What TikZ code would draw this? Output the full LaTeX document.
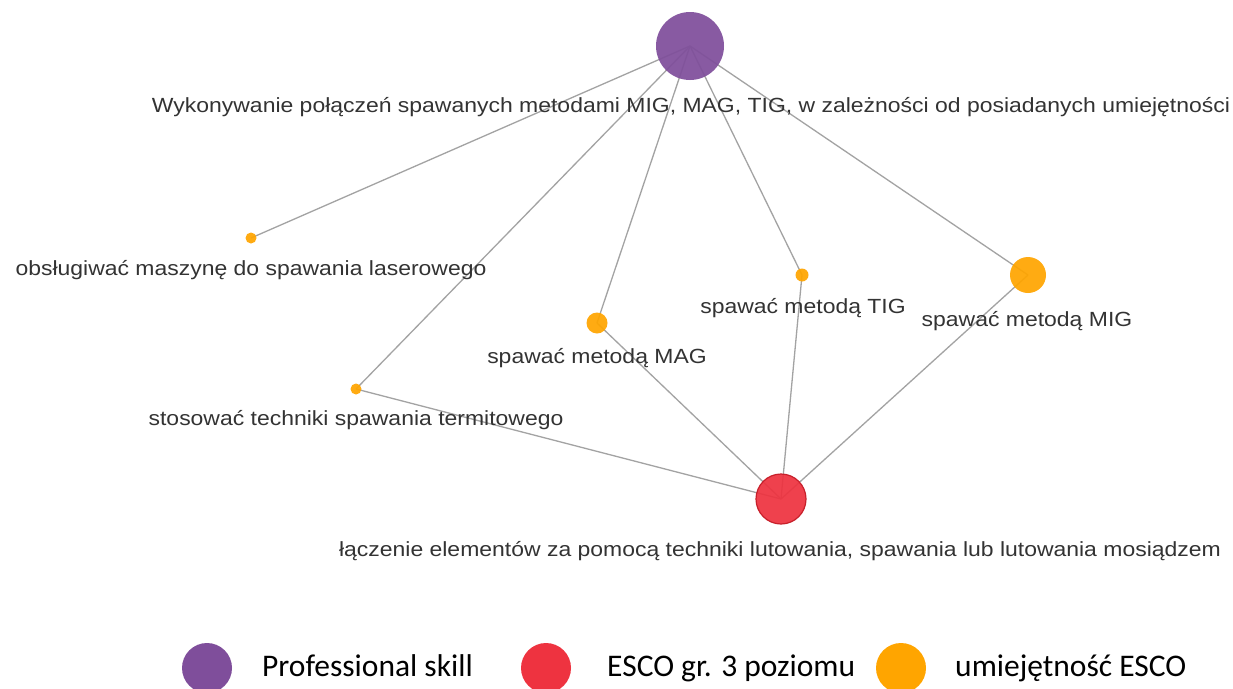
\documentclass[tikz,border=0pt]{standalone}
\usepackage{fontspec}
\setmainfont{Liberation Sans}
\newfontfamily\labfont[FakeStretch=1.12]{Liberation Sans}
\newfontfamily\legfont{Carlito}
\definecolor{cpurple}{HTML}{7F4E9B}
\definecolor{cred}{HTML}{EE3340}
\definecolor{credb}{HTML}{C8202B}
\definecolor{corange}{HTML}{FFA500}
\definecolor{cedge}{HTML}{A3A3A3}
\definecolor{ctext}{HTML}{333333}
\tikzset{
  edge/.style={draw=cedge, line width=1.3pt},
  dotnode/.style={circle, inner sep=0pt, fill=#1, fill opacity=0.93},
  lab/.style={font=\labfont\fontsize{20.5}{24}\selectfont, text=ctext, inner sep=0pt, anchor=center},
  legdot/.style={circle, inner sep=0pt, minimum size=50pt, fill=#1},
  legtxt/.style={font=\legfont\fontsize{31.5}{36}\selectfont, text=black, inner sep=0pt, anchor=base west},
}
\begin{document}
\begin{tikzpicture}[x=1pt,y=-1pt]
\useasboundingbox[fill=white] (0,0) rectangle (1233,688);
% coordinates
\coordinate (P) at (690,46);
\coordinate (L) at (251,238);
\coordinate (MAG) at (597,323);
\coordinate (TIG) at (802,275);
\coordinate (MIG) at (1028,275);
\coordinate (T) at (356,389);
\coordinate (R) at (781,499);
% edges
\draw[edge] (P) -- (L);
\draw[edge] (P) -- (T);
\draw[edge] (P) -- (MAG);
\draw[edge] (P) -- (TIG);
\draw[edge] (P) -- (MIG);
\draw[edge] (R) -- (T);
\draw[edge] (R) -- (MAG);
\draw[edge] (R) -- (TIG);
\draw[edge] (R) -- (MIG);
% nodes
\node[dotnode=cpurple, minimum size=68pt] (nP) at (P) {};
\node[dotnode=corange, minimum size=11pt] (nL) at (L) {};
\node[dotnode=corange, minimum size=21pt] (nMAG) at (MAG) {};
\node[dotnode=corange, minimum size=13pt] (nTIG) at (TIG) {};
\node[dotnode=corange, minimum size=36pt] (nMIG) at (MIG) {};
\node[dotnode=corange, minimum size=11pt] (nT) at (T) {};
\node[dotnode=cred, draw=credb, line width=1.2pt, minimum size=50pt] (nR) at (R) {};
% labels
\node[lab] (lP) at (691,107) {Wykonywanie połączeń spawanych metodami MIG, MAG, TIG, w zależności od posiadanych umiejętności};
\node[lab] (lL) at (251,270) {obsługiwać maszynę do spawania laserowego};
\node[lab] (lMAG) at (597,358) {spawać metodą MAG};
\node[lab] (lTIG) at (803,308) {spawać metodą TIG};
\node[lab] (lMIG) at (1027,321) {spawać metodą MIG};
\node[lab] (lT) at (356,420) {stosować techniki spawania termitowego};
\node[lab] (lR) at (780,551) {łączenie elementów za pomocą techniki lutowania, spawania lub lutowania mosiądzem};
% legend
\node[legdot=cpurple] (g1) at (207,668) {};
\node[legtxt] (t1) at (262,676) {Professional skill};
\node[legdot=cred] (g2) at (546,668) {};
\node[legtxt] (t2) at (607,676) {ESCO gr. 3 poziomu};
\node[legdot=corange] (g3) at (901,668) {};
\node[legtxt] (t3) at (955,676) {umiejętność ESCO};
\end{tikzpicture}
\end{document}
